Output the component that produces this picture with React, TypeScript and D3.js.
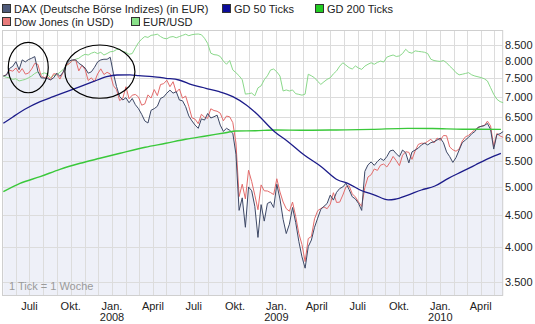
import React from "react";
import * as d3 from "d3";

// ---------- data (weekly ticks starting at firstWeek) ----------
const firstWeek = "2007-05-04";

// DAX (in EUR), weekly
const daxValues = [
  7570, 7600, 7790, 7850, 7990, 7750, 8040, 7980, 8050, 8090,
  8140, 7700, 7520, 7510, 7500, 7460, 7520, 7650, 7560, 7680,
  7900, 8010, 8040, 8040, 7940, 7880, 7800, 7650, 7690, 7820,
  7980, 8040, 8060, 8060, 8120, 7650, 7280, 7010, 6920, 6980,
  6850, 6960, 6800, 6700, 6560, 6400, 6350, 6660, 6700, 6760,
  6960, 7000, 7100, 7180, 7100, 7140, 6920, 6900, 6750, 6520,
  6400, 6300, 6225, 6450, 6420, 6580, 6470, 6500, 6540, 6300,
  6155, 6225, 6180, 6110, 5650, 4580, 4800, 4300, 5000, 4930,
  4650, 4140, 4680, 4400, 4700, 4730, 4630, 5050, 4780, 4430,
  4200, 4350, 4630, 4380, 4080, 3850, 3690, 4000, 4100, 4300,
  4450, 4600, 4650, 4700, 4850, 4760, 4900, 4970, 5000, 5070,
  4950, 4820, 4780, 4700, 4580, 5300, 5430, 5490, 5420, 5500,
  5560, 5520, 5600, 5720, 5740, 5660, 5600, 5740, 5680, 5470,
  5700, 5740, 5780, 5850, 5890, 5850, 5900, 5920, 5960, 6000,
  5900, 5700, 5600, 5480, 5580, 5740, 5900, 5960, 6020, 6100,
  6150, 6250, 6270, 6290, 6340, 6200, 5760, 6080, 6100, 6150,
];

// Dow Jones (in USD), weekly, rebased onto the DAX start in the chart
const dowJonesUsd = [
  13265, 13327, 13556, 13507, 13668, 13424, 13639, 13360, 13408, 13611,
  13907, 13851, 13265, 13182, 13239, 13079, 13379, 13358, 13113, 13442,
  13820, 13896, 14066, 14093, 13522, 13806, 13595, 13043, 13176, 12980,
  13371, 13625, 13339, 13450, 13366, 12800, 12606, 12099, 12207, 12743,
  12182, 12348, 12381, 12266, 11894, 11951, 12361, 12216, 12609, 12325,
  12849, 12891, 13058, 12745, 12986, 12480, 12638, 12210, 12307, 11843,
  11346, 11288, 11100, 11496, 11370, 11326, 11734, 11659, 11628, 11543,
  11220, 11421, 11388, 11143, 10325, 8451, 8852, 8378, 9325, 8943,
  8497, 8046, 8829, 8635, 8629, 8579, 8515, 9034, 8599, 8281,
  8077, 8001, 8280, 7850, 7366, 7062, 6627, 7224, 7279, 7776,
  8017, 8083, 8131, 8076, 8212, 8575, 8268, 8277, 8500, 8764,
  8799, 8539, 8438, 8280, 8146, 8743, 9093, 9171, 9370, 9321,
  9505, 9544, 9441, 9605, 9820, 9665, 9487, 9864, 9995, 9972,
  9712, 10023, 10270, 10318, 10309, 10388, 10471, 10329, 10520, 10428,
  10618, 10610, 10173, 10067, 10012, 10099, 10402, 10567, 10625, 10742,
  10851, 10927, 10997, 11019, 11204, 11009, 10190, 10700, 10600, 10550,
];

// EUR/USD, weekly, rebased onto the DAX start in the chart
const eurUsd = [
  1.359, 1.352, 1.350, 1.342, 1.345, 1.334, 1.338, 1.342, 1.350, 1.359,
  1.372, 1.380, 1.368, 1.375, 1.370, 1.350, 1.362, 1.366, 1.378, 1.392,
  1.411, 1.425, 1.440, 1.447, 1.452, 1.465, 1.474, 1.470, 1.480, 1.486,
  1.478, 1.485, 1.470, 1.478, 1.488, 1.490, 1.500, 1.502, 1.490, 1.485,
  1.474, 1.478, 1.510, 1.540, 1.560, 1.575, 1.570, 1.582, 1.585, 1.589,
  1.575, 1.565, 1.562, 1.572, 1.575, 1.568, 1.575, 1.582, 1.589, 1.580,
  1.586, 1.589, 1.590, 1.586, 1.565, 1.535, 1.480, 1.472, 1.470, 1.462,
  1.437, 1.420, 1.440, 1.390, 1.376, 1.360, 1.340, 1.270, 1.272, 1.275,
  1.262, 1.300, 1.310, 1.340, 1.360, 1.390, 1.395, 1.380, 1.359, 1.285,
  1.290, 1.285, 1.290, 1.272, 1.269, 1.265, 1.270, 1.368, 1.360, 1.350,
  1.332, 1.317, 1.330, 1.342, 1.350, 1.370, 1.385, 1.410, 1.428, 1.415,
  1.402, 1.395, 1.411, 1.400, 1.393, 1.410, 1.420, 1.428, 1.420, 1.430,
  1.437, 1.432, 1.458, 1.465, 1.470, 1.462, 1.465, 1.478, 1.502, 1.485,
  1.480, 1.493, 1.490, 1.488, 1.485, 1.478, 1.447, 1.440, 1.437, 1.435,
  1.440, 1.428, 1.410, 1.395, 1.376, 1.365, 1.368, 1.372, 1.376, 1.365,
  1.359, 1.355, 1.351, 1.345, 1.334, 1.301, 1.269, 1.246, 1.235, 1.230,
];

// GD 50 Ticks (moving average)
const gd50Dates = [
  "2007-05-04", "2007-05-26", "2007-06-25", "2007-07-25", "2007-08-23", "2007-09-22",
  "2007-10-22", "2007-11-20", "2007-12-20", "2008-01-12", "2008-02-10", "2008-03-01",
  "2008-03-31", "2008-04-30", "2008-05-29", "2008-06-28", "2008-07-28", "2008-08-27",
  "2008-09-26", "2008-10-26", "2008-11-17", "2008-12-28", "2009-01-27", "2009-03-04",
  "2009-04-11", "2009-05-18", "2009-06-09", "2009-07-09", "2009-08-08", "2009-09-07",
  "2009-09-22", "2009-10-21", "2009-11-20", "2009-12-20", "2010-01-19", "2010-02-18",
  "2010-03-20", "2010-04-19", "2010-05-16",
];
const gd50Values = [
  6343, 6502, 6709, 6877, 7007, 7139,
  7274, 7411, 7551, 7599, 7605, 7580,
  7551, 7506, 7458, 7320, 7230, 7139,
  7007, 6792, 6585, 6147, 5922, 5634,
  5393, 5131, 5068, 4934, 4851, 4765,
  4775, 4851, 4943, 5017, 5164, 5293,
  5427, 5565, 5670,
];

// GD 200 Ticks (moving average)
const gd200Dates = [
  "2007-05-04", "2007-06-10", "2007-07-25", "2007-09-07", "2007-10-22", "2007-12-05",
  "2008-01-19", "2008-03-15", "2008-04-30", "2008-06-13", "2008-07-28", "2008-09-10",
  "2008-10-03", "2008-11-15", "2009-01-01", "2009-03-01", "2009-05-15", "2009-08-01",
  "2009-10-20", "2009-12-15", "2010-02-20", "2010-05-16",
];
const gd200Values = [
  4912, 5068, 5195, 5341, 5462, 5565,
  5670, 5799, 5886, 5975, 6049, 6124,
  6163, 6170, 6187, 6180, 6187, 6200,
  6225, 6220, 6205, 6200,
];

const yTickValues = [3500, 4000, 4500, 5000, 5500, 6000, 6500, 7000, 7500, 8000, 8500];
const quarterLabels = ["Jan.", "April", "Juli", "Okt."];

// hand-drawn highlight ellipses: [startDate, endDate, lowValue, highValue]
const highlightFrom = ["2007-05-15", "2007-09-18"];
const highlightTo = ["2007-08-12", "2008-02-21"];
const highlightLow = [7111, 6966];
const highlightHigh = [8587, 8500];

const legendLabels = [
  "DAX (Deutsche Börse Indizes) (in EUR)",
  "GD 50 Ticks",
  "GD 200 Ticks",
  "Dow Jones (in USD)",
  "EUR/USD",
];

const C = {
  dax: "#3d4866",
  daxLegend: "#4e5a7a",
  dow: "#e36b6b",
  dowLegend: "#e87a7a",
  fx: "#8ad88a",
  fxLegend: "#88e088",
  gd50: "#1c1c8a",
  gd50Legend: "#0c0c9a",
  gd200: "#3ac83a",
  gd200Legend: "#22cc22",
  area: "#eef0f8",
  grid: "#dcdcdc",
  text: "#222",
};

const deLocale = d3.formatLocale({ decimal: ",", thousands: ".", grouping: [3], currency: ["", " €"] });
const fmt = deLocale.format(",");

export default function App() {
  const W = 535, H = 324;
  const L = 2, R = 502.7, T = 30, B = 295;
  const parse = d3.timeParse("%Y-%m-%d");

  const x = d3.scaleTime().domain([new Date(2007, 4, 1), new Date(2010, 4, 20)]).range([L, R]);
  const y = d3.scaleLog().domain([3338, 8991]).range([B, T]);

  const start = parse(firstWeek) as Date;
  const weeks = daxValues.map((_, i) => d3.timeDay.offset(start, 7 * i));
  const dowK = daxValues[0] / dowJonesUsd[0];
  const fxK = daxValues[0] / eurUsd[0];

  type P = [Date, number];
  const daxPts: P[] = daxValues.map((v, i) => [weeks[i], v]);
  const dowPts: P[] = dowJonesUsd.map((v, i) => [weeks[i], v * dowK]);
  const fxPts: P[] = eurUsd.map((v, i) => [weeks[i], v * fxK]);
  const gd50Pts: P[] = gd50Values.map((v, i) => [parse(gd50Dates[i]) as Date, v]);
  const gd200Pts: P[] = gd200Values.map((v, i) => [parse(gd200Dates[i]) as Date, v]);

  const line = d3.line<P>().x((d) => x(d[0])).y((d) => y(d[1]));
  const smooth = d3.line<P>().x((d) => x(d[0])).y((d) => y(d[1])).curve(d3.curveMonotoneX);
  const area = d3.area<P>().x((d) => x(d[0])).y0(B).y1((d) => y(d[1]));

  const months = d3.timeMonth.range(new Date(2007, 4, 1), new Date(2010, 5, 1)).filter((m) => x(m) >= L - 1 && x(m) <= R);
  const quarters = months.filter((m) => m.getMonth() % 3 === 0 && x(m) > 10 && x(m) < R - 10);

  const font = "'Liberation Sans', Arial, Helvetica, sans-serif";

  const legendPos = [
    { x: 2, y: 4, c: C.daxLegend },
    { x: 222, y: 4, c: C.gd50Legend },
    { x: 315, y: 4, c: C.gd200Legend },
    { x: 2, y: 17, c: C.dowLegend },
    { x: 131, y: 17, c: C.fxLegend },
  ];

  return (
    <svg width={W} height={H} style={{ position: "fixed", left: 0, top: 0, background: "#fff" }} fontFamily={font}>
      <rect x={0} y={0} width={W} height={H} fill="#fff" />
      {/* area under DAX */}
      <path d={area(daxPts) || ""} fill={C.area} />
      {/* grid */}
      {months.map((m, i) => (
        <line key={"v" + i} x1={Math.round(x(m)) + 0.5} x2={Math.round(x(m)) + 0.5} y1={T} y2={B} stroke={C.grid} strokeWidth={1} />
      ))}
      {yTickValues.map((v, i) => (
        <line key={"h" + i} x1={L} x2={R} y1={Math.round(y(v)) + 0.5} y2={Math.round(y(v)) + 0.5} stroke={C.grid} strokeWidth={1} />
      ))}
      <rect x={L + 0.5} y={T + 0.5} width={R - L - 0.5} height={B - T} fill="none" stroke="#cfcfcf" strokeWidth={1} />

      {/* series */}
      <path d={line(fxPts) || ""} fill="none" stroke={C.fx} strokeWidth={1} />
      <path d={line(dowPts) || ""} fill="none" stroke={C.dow} strokeWidth={1} />
      <path d={line(daxPts) || ""} fill="none" stroke={C.dax} strokeWidth={1} />
      <path d={smooth(gd200Pts) || ""} fill="none" stroke={C.gd200} strokeWidth={1.4} />
      <path d={smooth(gd50Pts) || ""} fill="none" stroke={C.gd50} strokeWidth={1.3} />

      {/* highlight ellipses */}
      {highlightFrom.map((f, i) => {
        const x0 = x(parse(f) as Date), x1 = x(parse(highlightTo[i]) as Date);
        const y0 = y(highlightHigh[i]), y1 = y(highlightLow[i]);
        return (
          <ellipse key={"e" + i} cx={(x0 + x1) / 2} cy={(y0 + y1) / 2} rx={(x1 - x0) / 2} ry={(y1 - y0) / 2}
            fill="none" stroke="#000" strokeWidth={1.2} />
        );
      })}

      {/* y axis labels */}
      {yTickValues.map((v, i) => (
        <text key={"yl" + i} x={505} y={y(v) + 4} fontSize={11} fill={C.text}>{fmt(v)}</text>
      ))}

      {/* x axis labels */}
      {quarters.map((m, i) => (
        <g key={"xl" + i}>
          <text x={x(m)} y={310} fontSize={11} fill={C.text} textAnchor="middle">{quarterLabels[m.getMonth() / 3]}</text>
          {m.getMonth() === 0 && (
            <text x={x(m)} y={321} fontSize={11} fill={C.text} textAnchor="middle">{m.getFullYear()}</text>
          )}
        </g>
      ))}

      <text x={9} y={289.5} fontSize={11} fill="#9a9a9a">1 Tick = 1 Woche</text>

      {/* legend */}
      {legendLabels.map((lab, i) => (
        <g key={"lg" + i}>
          <rect x={legendPos[i].x + 0.5} y={legendPos[i].y + 0.5} width={8} height={8} fill={legendPos[i].c} stroke="#333" strokeWidth={1} />
          <text x={legendPos[i].x + 12} y={legendPos[i].y + 8.5} fontSize={11} fill={C.text}>{lab}</text>
        </g>
      ))}
    </svg>
  );
}
